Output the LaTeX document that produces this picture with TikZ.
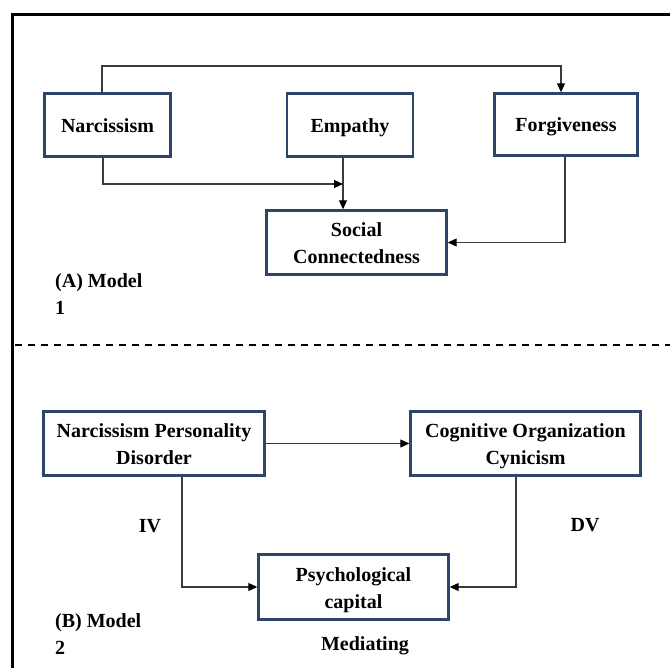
\documentclass[tikz,border=0pt]{standalone}
\usepackage{fontspec}
\setmainfont{Liberation Serif}
\usetikzlibrary{arrows.meta}
\definecolor{boxblue}{HTML}{2F446B}
\definecolor{linegray}{HTML}{3A3A3A}
\newcommand\mystrut{\rule[-6pt]{0pt}{27pt}}
\tikzset{
  every node/.style={font=\bfseries\fontsize{20}{27}\selectfont, inner sep=0pt},
  boxnode/.style={draw=boxblue, line width=2.4pt, fill=white, align=center},
  conn/.style={draw=linegray, line width=1.1pt},
  arr/.style={conn, -{Triangle[length=9pt,width=8pt,fill=black,color=black]}},
  lbl/.style={align=left, anchor=west}
}
\begin{document}
\begin{tikzpicture}[x=1pt,y=-1pt]
\useasboundingbox (0,0) rectangle (670,668);
% frame
\coordinate (fbl) at (12,668);
\coordinate (ftl) at (12,14.5);
\coordinate (ftr) at (670,14.5);
\draw[line width=3pt, line cap=rect] (fbl) -- (ftl) -- (ftr);
% dashed separator
\coordinate (dl) at (15,345);
\coordinate (dr) at (670,345);
\draw[line width=1.5pt, dash pattern=on 7pt off 6pt] (dl) -- (dr);

% Model 1
\node[boxnode, minimum width=126pt, minimum height=63pt] (narc) at (107.5,125) {\mystrut Narcissism};
\node[boxnode, minimum width=126pt, minimum height=63pt] (emp) at (350,125) {\mystrut Empathy};
\node[boxnode, minimum width=143pt, minimum height=62pt] (forg) at (566,124.5) {\mystrut Forgiveness};
\node[boxnode, minimum width=180pt, minimum height=64pt] (soc) at (356.5,242.5) {\mystrut Social\\\mystrut Connectedness};

\coordinate (t1) at (102,66);
\coordinate (t2) at (561,66);
\draw[arr] (t1 |- narc.north) -- (t1) -- (t2) -- (t2 |- forg.north);
\coordinate (b1) at (103,184);
\coordinate (b2) at (343,184);
\draw[arr] (b1 |- narc.south) -- (b1) -- (b2);
\draw[arr] (b2 |- emp.south) -- (b2 |- soc.north);
\coordinate (f1) at (565,242.5);
\draw[arr] (f1 |- forg.south) -- (f1) -- (soc.east);

\node[lbl] (ma) at (55,294.5) {(A) Model\\1};

% Model 2
\node[boxnode, minimum width=221pt, minimum height=64pt] (npd) at (154,443.5) {\mystrut Narcissism Personality\\\mystrut Disorder};
\node[boxnode, minimum width=230pt, minimum height=64pt] (coc) at (525.5,443.5) {\mystrut Cognitive Organization\\\mystrut Cynicism};
\node[boxnode, minimum width=190pt, minimum height=65pt] (psy) at (353.5,587) {\mystrut Psychological\\\mystrut capital};

\draw[arr] (npd.east) -- (coc.west);
\coordinate (c1) at (182,587);
\draw[arr] (c1 |- npd.south) -- (c1) -- (psy.west);
\coordinate (c2) at (516,587);
\draw[arr] (c2 |- coc.south) -- (c2) -- (psy.east);

\node (iv) at (150,526) {IV};
\node (dv) at (585,525) {DV};
\node[lbl] (mb) at (55,634) {(B) Model\\2};
\node (med) at (365,646) {Mediating};
\end{tikzpicture}
\end{document}
